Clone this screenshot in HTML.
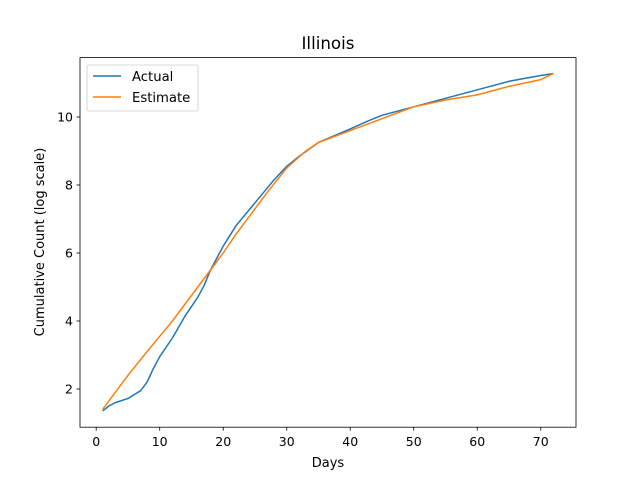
<!DOCTYPE html>
<html><head><meta charset="utf-8"><style>body{margin:0;background:#fff}svg{font-family:"DejaVu Sans","Liberation Sans",sans-serif}</style></head>
<body>
<svg id="chart" width="640" height="480">
<rect width="640" height="480" fill="#fff"/>
<text x="328" y="49" text-anchor="middle" font-size="16.7">Illinois</text>
<g id="plot"></g>
<rect x="80" y="57.6" width="496" height="369.6" fill="none" stroke="#000" stroke-width="0.8"/>
<text x="328" y="467" text-anchor="middle" font-size="13">Days</text>
<text transform="translate(44,242) rotate(-90)" text-anchor="middle" font-size="13">Cumulative Count (log scale)</text>
<g>
<rect x="87" y="65" width="111" height="46" rx="2" fill="#fff" stroke="#ccc" stroke-width="0.8"/>
<line x1="93" y1="76" x2="121" y2="76" stroke="#1f77b4" stroke-width="1.5"/>
<text x="132" y="81" font-size="13.2">Actual</text>
<line x1="93" y1="97" x2="121" y2="97" stroke="#ff7f0e" stroke-width="1.5"/>
<text x="132" y="102" font-size="13.2">Estimate</text>
</g>
</svg>
<script>
const xTicks=[0,10,20,30,40,50,60,70];
const yTicks=[2,4,6,8,10];
const actualDays=[1,2,3,5,7,8,9,10,12,14,16,17,18,20,22,24,26,28,30,32,35,40,43,45,50,55,60,65,70,72];
const actualVals=[1.35,1.5,1.6,1.72,1.95,2.2,2.6,2.95,3.5,4.15,4.7,5.05,5.5,6.2,6.8,7.25,7.7,8.15,8.55,8.85,9.25,9.65,9.9,10.05,10.3,10.55,10.8,11.05,11.22,11.28];
const estDays=[1,5,8,10,12,15,18,20,22,25,27,30,33,35,40,45,50,55,60,62,65,70,72];
const estVals=[1.4,2.4,3.1,3.55,4.0,4.75,5.5,6.0,6.55,7.3,7.8,8.5,9.0,9.25,9.6,9.95,10.3,10.5,10.65,10.75,10.9,11.1,11.28];
const X=d=>80+(d+2.55)*496/78.1;
const Y=v=>389-(v-2)*34;
const g=document.getElementById('plot');const ns='http://www.w3.org/2000/svg';
function mk(t,a){const e=document.createElementNS(ns,t);for(const k in a)e.setAttribute(k,a[k]);g.appendChild(e);return e;}
xTicks.forEach(t=>{const l=mk('line',{x1:X(t),x2:X(t),y1:427.2,y2:430.7,stroke:'#000','stroke-width':0.8});


const s=mk('text',{x:X(t),y:446,'text-anchor':'middle','font-size':12.5});s.textContent=t;

});
yTicks.forEach(t=>{const l=mk('line',{x1:76.5,x2:80,y1:Y(t),y2:Y(t),stroke:'#000','stroke-width':0.8});


const s=mk('text',{x:73,y:Y(t)+4.5,'text-anchor':'end','font-size':12.5});s.textContent=t;

});
function line(ds,vs,c,n){const p=mk('polyline',{points:ds.map((d,i)=>X(d)+','+Y(vs[i])).join(' '),fill:'none',stroke:c,'stroke-width':1.5,'stroke-linejoin':'round'});

}
line(actualDays,actualVals,'#1f77b4','actual-line');
line(estDays,estVals,'#ff7f0e','estimate-line');
</script>
</body></html>
